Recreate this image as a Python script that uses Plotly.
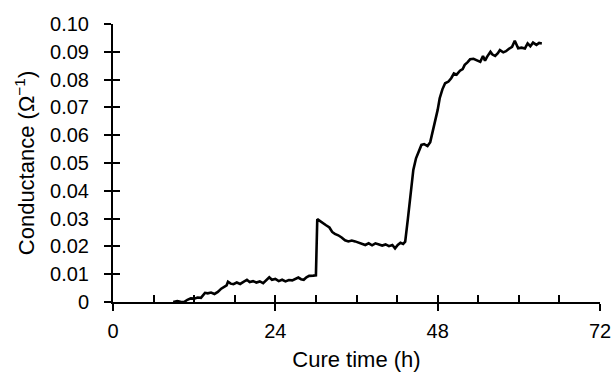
import plotly.graph_objects as go

cure_time_h = [8.9, 9.5, 10.0, 10.5, 11.0, 11.5, 12.0, 12.5, 13.0, 13.3, 13.6, 14.0, 14.5, 15.0, 15.5,
               16.0, 16.4, 16.8, 17.0, 17.4, 17.8, 18.3, 18.8, 19.3, 19.8, 20.2, 20.7, 21.2, 21.7,
               22.2, 22.7, 23.1, 23.5, 24.0, 24.5, 25.0, 25.5, 26.0, 26.5, 27.0, 27.4, 27.8, 28.2,
               28.6, 29.0, 29.6, 30.0, 30.2, 30.6, 31.0, 31.5, 32.0, 32.4, 32.8, 33.3, 33.8, 34.3,
               34.8, 35.3, 35.8, 36.3, 36.8, 37.3, 37.8, 38.3, 38.8, 39.3, 39.8, 40.3, 40.8, 41.3,
               41.7, 42.1, 42.5, 42.9, 43.2, 43.6, 44.0, 44.4, 44.8, 45.2, 45.6, 46.0, 46.5, 46.9,
               47.3, 47.6, 48.0, 48.3, 48.7, 49.1, 49.6, 50.0, 50.4, 50.8, 51.3, 51.7, 52.0, 52.4,
               52.8, 53.3, 53.8, 54.3, 54.7, 55.0, 55.3, 55.8, 56.1, 56.5, 56.9, 57.2, 57.7, 58.1,
               58.5, 59.0, 59.4, 59.9, 60.4, 60.9, 61.3, 61.7, 62.1, 62.6, 63.0, 63.4]

conductance = [0.0000, 0.0003, 0.0001, 0.0000, 0.0008, 0.0013, 0.0012, 0.0016, 0.0015, 0.0025, 0.0033,
               0.0031, 0.0034, 0.0029, 0.0036, 0.0048, 0.0055, 0.0060, 0.0073, 0.0066, 0.0064, 0.0070,
               0.0065, 0.0071, 0.0080, 0.0072, 0.0075, 0.0070, 0.0074, 0.0068, 0.0078, 0.0089, 0.0080,
               0.0083, 0.0075, 0.0080, 0.0074, 0.0079, 0.0078, 0.0085, 0.0088, 0.0082, 0.0080, 0.0089,
               0.0094, 0.0095, 0.0096, 0.0298, 0.0292, 0.0283, 0.0276, 0.0268, 0.0252, 0.0245, 0.0240,
               0.0232, 0.0222, 0.0218, 0.0221, 0.0218, 0.0214, 0.0210, 0.0205, 0.0211, 0.0204, 0.0211,
               0.0206, 0.0203, 0.0207, 0.0201, 0.0205, 0.0193, 0.0205, 0.0213, 0.0209, 0.0217, 0.0300,
               0.0400, 0.0475, 0.0517, 0.0540, 0.0565, 0.0568, 0.0561, 0.0575, 0.0615, 0.0643, 0.0691,
               0.0733, 0.0765, 0.0787, 0.0793, 0.0805, 0.0822, 0.0818, 0.0832, 0.0838, 0.0853, 0.0862,
               0.0873, 0.0875, 0.0870, 0.0864, 0.0885, 0.0868, 0.0882, 0.0900, 0.0890, 0.0885, 0.0895,
               0.0906, 0.0898, 0.0902, 0.0910, 0.0918, 0.0940, 0.0913, 0.0915, 0.0912, 0.0930, 0.0920,
               0.0933, 0.0925, 0.0932, 0.0930]

x_major_ticks = [0, 24, 48, 72]
x_minor_ticks = [0, 6, 12, 18, 24, 30, 36, 42, 48, 54, 60, 66, 72]
y_ticks = [0, 0.01, 0.02, 0.03, 0.04, 0.05, 0.06, 0.07, 0.08, 0.09, 0.10]
y_tick_labels = ["0", "0.01", "0.02", "0.03", "0.04", "0.05", "0.06", "0.07", "0.08", "0.09", "0.10"]

FONT = "Liberation Sans, Arial, sans-serif"

fig = go.Figure()
fig.add_trace(go.Scatter(x=cure_time_h, y=conductance, mode="lines",
                         line=dict(color="black", width=2.6), showlegend=False, hoverinfo="skip"))
fig.add_trace(go.Scatter(x=[None], y=[None], xaxis="x2", yaxis="y2", showlegend=False, hoverinfo="skip"))

fig.update_layout(
    width=613, height=372,
    margin=dict(l=113, r=13, t=24, b=70, autoexpand=False),
    paper_bgcolor="white", plot_bgcolor="white",
    font=dict(family=FONT, size=20, color="black"),
    xaxis=dict(range=[0, 72], tickvals=x_major_ticks, ticktext=[str(v) for v in x_major_ticks],
               ticks="outside", ticklen=7, tickwidth=2, tickcolor="black", automargin=False,
               showline=True, linewidth=2, linecolor="black", showgrid=False, zeroline=False,
               tickfont=dict(size=20), ticklabelstandoff=3,
               title=dict(text="Cure time (h)", font=dict(size=22), standoff=13)),
    yaxis=dict(range=[0, 0.10], tickvals=y_ticks, ticktext=y_tick_labels,
               ticks="outside", ticklen=7, tickwidth=2, tickcolor="black", automargin=False,
               showline=True, linewidth=2, linecolor="black", showgrid=False, zeroline=False,
               tickfont=dict(size=20), ticklabelstandoff=11,
               title=dict(text="Conductance (Ω<sup>−1</sup>)", font=dict(size=22), standoff=9)),
    xaxis2=dict(range=[0, 72], overlaying="x", anchor="y", tickvals=x_minor_ticks, automargin=False,
                ticks="inside", ticklen=7, tickwidth=2, tickcolor="black",
                showticklabels=False, showline=False, showgrid=False, zeroline=False),
    yaxis2=dict(range=[0, 0.10], overlaying="y", anchor="x", tickvals=y_ticks, automargin=False,
                ticks="inside", ticklen=7, tickwidth=2, tickcolor="black",
                showticklabels=False, showline=False, showgrid=False, zeroline=False),
)

fig.write_html("out.html")
